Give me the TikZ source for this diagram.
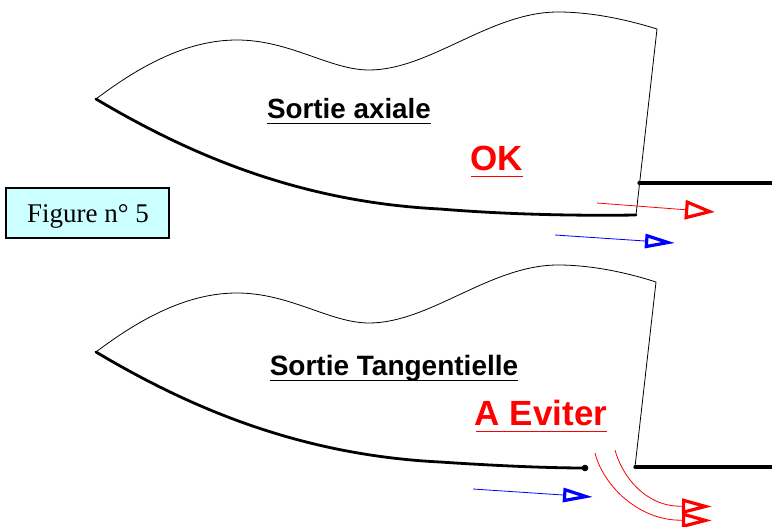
\documentclass[tikz,border=0pt]{standalone}
\usepackage{fontspec}
\setmainfont{Liberation Serif}
\setsansfont{Liberation Sans}
\usetikzlibrary{arrows.meta}
\definecolor{boxfill}{HTML}{CCFFFF}
\tikzset{
  thinline/.style={black,line width=0.8pt,line join=round},
  thickline/.style={black,line width=3.2pt,line cap=round},
  wallline/.style={black,line width=2.8pt,line cap=round},
  redflow/.style={red,line width=0.8pt,-{Triangle[open,length=30pt,width=19pt,line width=3.2pt]}},
  redcurve/.style={red,line width=0.8pt,-{Triangle[open,length=30pt,width=15pt,line width=3.2pt]}},
  blueflow/.style={blue,line width=0.8pt,-{Triangle[open,length=30pt,width=14pt,line width=3.2pt]}},
  titre/.style={inner sep=0pt,anchor=base},
  soul/.style={line width=0.8pt}
}
\begin{document}
\begin{tikzpicture}[x=1pt,y=-1pt]
\useasboundingbox (0,0) rectangle (772,527);
% upper nozzle
\coordinate (a1) at (96,99);
\coordinate (a2) at (657,29);
\coordinate (a3) at (636,215);
\coordinate (a4) at (639,183);
\coordinate (a5) at (772,183);
\draw[thinline] (a1) .. controls (150,58) and (195,40) .. (237,40)
  .. controls (290,40) and (330,70) .. (369,70)
  .. controls (430,70) and (490,12) .. (558,12)
  .. controls (590,12) and (625,19) .. (a2) -- (a3);
\draw[wallline] (a1) .. controls (190,155) and (300,202) .. (440,209)
  .. controls (500,214) and (570,216) .. (a3);
\draw[thickline] (a4) -- (a5);
\coordinate (r1) at (597,203);
\coordinate (r2) at (715,212);
\draw[redflow] (r1) -- (r2);
\coordinate (b1) at (555,235);
\coordinate (b2) at (675,243);
\draw[blueflow] (b1) -- (b2);
\node[titre,font=\sffamily\bfseries\fontsize{27.8}{30}\selectfont] (t1) at (349,118) {Sortie axiale};
\draw[black,soul] (267,123) -- (431,123);
\node[titre,red,font=\sffamily\bfseries\fontsize{35}{38}\selectfont] (t2) at (497,171) {OK};
\draw[red,soul] (471,176) -- (523,176);
% box
\node[draw=black,line width=1.2pt,fill=boxfill,minimum width=163pt,minimum height=50pt,inner sep=0pt] (fig) at (87.5,213) {};
\node[titre,font=\fontsize{27}{30}\selectfont] (figt) at (88,222) {Figure n° 5};
% lower nozzle
\coordinate (c1) at (96,352);
\coordinate (c2) at (656,282);
\coordinate (c3) at (635,467);
\coordinate (c4) at (772,467);
\coordinate (c5) at (585,468);
\draw[thinline] (c1) .. controls (150,311) and (195,293) .. (237,293)
  .. controls (290,293) and (330,323) .. (369,323)
  .. controls (430,323) and (490,265) .. (558,265)
  .. controls (590,265) and (625,272) .. (c2) -- (c3);
\draw[wallline] (c1) .. controls (190,408) and (300,455) .. (440,462)
  .. controls (500,466) and (550,468) .. (c5);
\fill[black] (c5) circle (3.3pt);
\draw[thickline] (c3) -- (c4);
\coordinate (d1) at (473,489);
\coordinate (d2) at (593,497);
\draw[blueflow] (d1) -- (d2);
\coordinate (e1) at (615,450);
\coordinate (e2) at (712,506.5);
\coordinate (f1) at (595,453);
\coordinate (f2) at (712,520.5);
\draw[redcurve] (e1) .. controls (622,476) and (645,506) .. (680,506.2) -- (e2);
\draw[redcurve] (f1) .. controls (603,485) and (638,520) .. (680,520.2) -- (f2);
\node[titre,font=\sffamily\bfseries\fontsize{28}{30}\selectfont] (t3) at (394,375) {Sortie Tangentielle};
\draw[black,soul] (270,380) -- (518,380);
\node[titre,red,font=\sffamily\bfseries\fontsize{35}{38}\selectfont] (t4) at (541,425) {A Eviter};
\draw[red,soul] (476,431) -- (607,431);
\end{tikzpicture}
\end{document}
